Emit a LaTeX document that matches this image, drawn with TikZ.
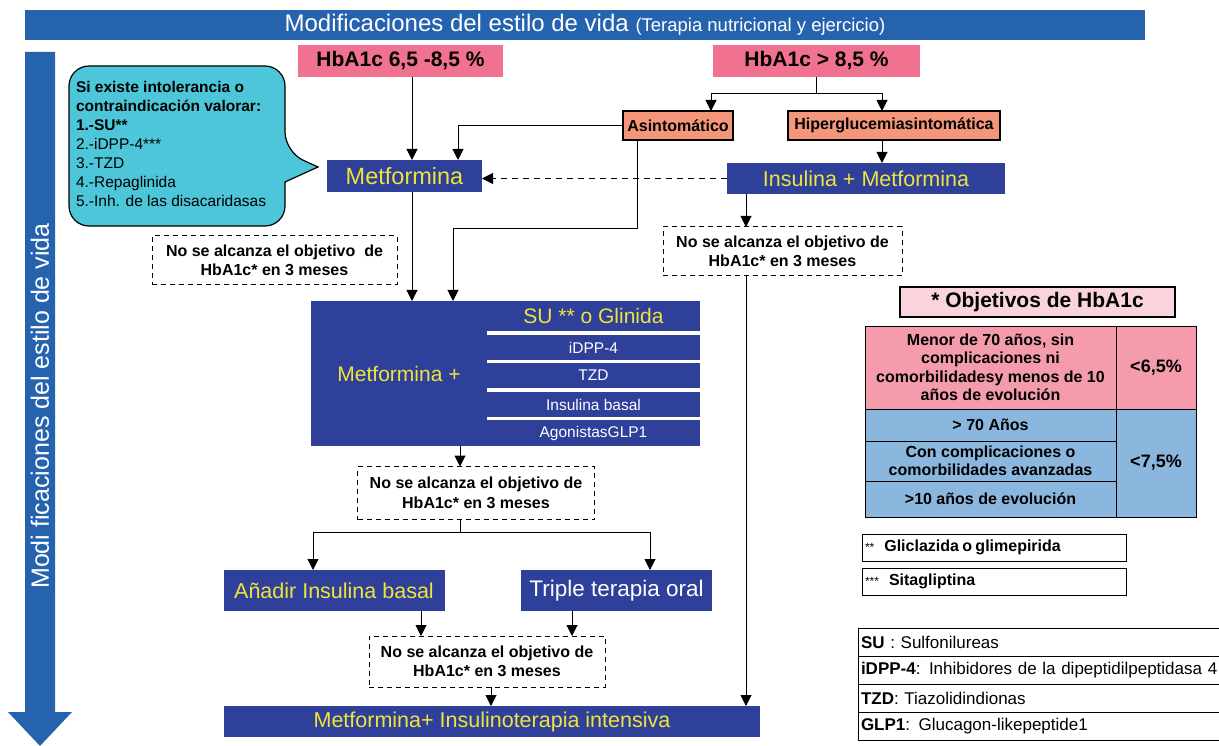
\documentclass[tikz,border=0pt]{standalone}
\usepackage{fontspec}
\setmainfont{Liberation Sans}
\usetikzlibrary{arrows.meta}
\definecolor{barblue}{RGB}{37,99,174}
\definecolor{dblue}{RGB}{46,64,153}
\definecolor{yel}{RGB}{240,228,60}
\definecolor{hpink}{RGB}{240,114,144}
\definecolor{salm}{RGB}{244,150,122}
\definecolor{cyanb}{RGB}{76,198,216}
\definecolor{tpink}{RGB}{244,156,172}
\definecolor{tblue}{RGB}{139,182,221}
\definecolor{lpink}{RGB}{250,212,221}
\newcommand\fsz[2]{\fontsize{#1}{#2}\selectfont}
\tikzset{
  box/.style={inner sep=0pt, outer sep=0pt},
  blk/.style={box, fill=dblue, text=yel},
  pbox/.style={box, fill=hpink, font=\fsz{21}{24}\bfseries},
  sbox/.style={box, fill=salm, draw=black, line width=1.2pt, font=\fsz{16}{18}\bfseries},
  dbox/.style={box, draw=black, line width=1pt, dash pattern=on 5pt off 4pt, align=center, font=\fsz{16}{19.5}\bfseries},
  arr/.style={line width=1pt, -{Triangle[width=11pt,length=11pt]}},
  ln/.style={line width=1pt},
  tcell/.style={box, draw=black, line width=1pt},
  rowc/.style={blk, text=white, minimum width=213pt, font=\fsz{15.5}{18}},
}
\begin{document}
\begin{tikzpicture}[x=1pt,y=-1pt]
\useasboundingbox (0,0) rectangle (1219,746);
% top bar
\node[box, fill=barblue, text=white, minimum width=1120pt, minimum height=30pt] (bar) at (585,25)
  {\fsz{24}{26}Modificaciones del estilo de vida \fsz{18.5}{20}(Terapia nutricional y ejercicio)};
% left arrow
\fill[barblue] (25,52) -- (55,52) -- (55,712) -- (72,712) -- (40,746) -- (8,712) -- (25,712) -- cycle;
\node[rotate=90, text=white, box, font=\fsz{25}{28}] (vtxt) at (40,406) {Modi ficaciones del estilo de vida};
% guides
\coordinate (gA) at (412,0);
\coordinate (gB) at (458,0);
\coordinate (gD) at (637,0);
\coordinate (gE) at (746,0);
\coordinate (gF) at (460,0);
\coordinate (gG) at (313,0);
\coordinate (gH) at (650,0);
\coordinate (gI) at (421,0);
\coordinate (gJ) at (572,0);
\coordinate (gK) at (491,0);
\coordinate (gL) at (711,0);
\coordinate (gM) at (882,0);
% HbA1c boxes
\node[pbox, minimum width=205pt, minimum height=32pt] (hbA) at (400.5,61) {HbA1c 6,5 -8,5 \%};
\node[pbox, minimum width=207pt, minimum height=32pt] (hbB) at (816.5,61) {HbA1c > 8,5 \%};
% bubble
\draw[fill=cyanb, line width=1.2pt] (69,140) [rounded corners=20pt] -- (69,66) -- (285,66) -- (285,152) [sharp corners] -- (318,167) -- (285,182) [rounded corners=20pt] -- (285,226) -- (69,226) -- cycle;
\node[box, anchor=north west, align=left, font=\fsz{15.5}{19}] (bubtxt) at (76,81)
  {\bfseries Si existe intolerancia o\\
   \bfseries contraindicación valorar:\\
   \bfseries 1.-SU**\\
   2.-iDPP-4***\\
   3.-TZD\\
   4.-Repaglinida\\
   5.-Inh. de las disacaridasas};
% Metformina
\node[blk, minimum width=155pt, minimum height=32pt, font=\fsz{23.5}{26}] (metf) at (404.5,176) {Metformina};
% Asintomatico / Hiper
\node[sbox, minimum width=110pt, minimum height=29pt] (asin) at (678,125.5) {Asintomático};
\node[sbox, minimum width=212pt, minimum height=29pt] (hiper) at (894,125.5) {Hiperglucemiasintomática};
% Insulina + Metformina
\node[blk, minimum width=278pt, minimum height=31pt, font=\fsz{21.5}{24}] (insm) at (866,178.5) {Insulina + Metformina};
% dashed boxes
\node[dbox, minimum width=245pt, minimum height=49pt] (d1) at (274.5,260.5) {No se alcanza el objetivo\ \ de\\HbA1c* en 3 meses};
\node[dbox, minimum width=239pt, minimum height=49pt] (d2) at (782.5,251.5) {No se alcanza el objetivo de\\HbA1c* en 3 meses};
% Metformina + block
\node[blk, minimum width=176pt, minimum height=145pt, font=\fsz{21}{24}] (metp) at (399,373.5) {Metformina +};
\node[blk, minimum width=213pt, minimum height=30pt, font=\fsz{21}{24}] (su) at (593.5,316) {SU ** o Glinida};
\node[rowc, minimum height=25pt] (idpp) at (593.5,347.5) {iDPP-4};
\node[rowc, minimum height=25pt] (tzd) at (593.5,375.5) {TZD};
\node[rowc, minimum height=25pt] (ib) at (593.5,404.5) {Insulina basal};
\node[rowc, minimum height=26pt] (glp) at (593.5,433) {AgonistasGLP1};
% d3
\node[dbox, minimum width=237pt, minimum height=53pt] (d3) at (476,493) {No se alcanza el objetivo de\\HbA1c* en 3 meses};
% Anadir / Triple
\node[blk, minimum width=221pt, minimum height=41pt, font=\fsz{21.5}{24}] (anad) at (334,590.5) {Añadir Insulina basal};
\node[blk, text=white, minimum width=191pt, minimum height=41pt, font=\fsz{22.5}{24}] (trip) at (616.5,590.5) {Triple terapia oral};
% d4
\node[dbox, minimum width=236pt, minimum height=51pt] (d4) at (487,661.5) {No se alcanza el objetivo de\\HbA1c* en 3 meses};
% intens
\node[blk, minimum width=536pt, minimum height=31pt, font=\fsz{21.5}{24}] (intens) at (492,721.5) {Metformina+ Insulinoterapia intensiva};
% connectors
\draw[arr] (hbA.south -| gA) -- (metf.north -| gA);
\draw[arr] (metf.south -| gA) -- (metp.north -| gA);
\draw[ln] (hbB.south) -- ++(0,17) coordinate (jB);
\draw[arr] (jB) -| (asin.north -| gL);
\draw[arr] (jB) -| (hiper.north -| gM);
\draw[arr] (asin.west) -| (metf.north -| gB);
\coordinate (jC) at (453,229);
\draw[arr] (asin.south -| gD) |- (jC) -- (metp.north -| jC);
\draw[arr] (hiper.south -| gM) -- (insm.north -| gM);
\draw[arr, dash pattern=on 6pt off 5pt] (insm.west) -- (metf.east |- insm.west);
\draw[arr] (insm.south -| gE) -- (d2.north -| gE);
\draw[arr] (d2.south -| gE) -- (intens.north -| gE);
\draw[arr] (metp.south -| gF) -- (d3.north -| gF);
\draw[ln] (d3.south -| gF) -- ++(0,13) coordinate (jD);
\draw[arr] (jD) -| (anad.north -| gG);
\draw[arr] (jD) -| (trip.north -| gH);
\draw[arr] (anad.south -| gI) -- (d4.north -| gI);
\draw[arr] (trip.south -| gJ) -- (d4.north -| gJ);
\draw[arr] (d4.south -| gK) -- (intens.north -| gK);
% objetivos
\node[box, fill=lpink, draw=black, line width=1.2pt, minimum width=275pt, minimum height=30pt, font=\fsz{21}{24}\bfseries] (objt) at (1037.5,302) {* Objetivos de HbA1c};
\node[tcell, fill=tpink, minimum width=251pt, minimum height=83pt, align=center, font=\fsz{16}{18.5}\bfseries] (c1) at (990.5,367.5)
  {Menor de 70 años, sin\\complicaciones ni\\comorbilidadesy menos de 10\\años de evolución};
\node[tcell, fill=tpink, minimum width=80pt, minimum height=83pt, font=\fsz{18}{20}\bfseries] (c1r) at (1156,367.5) {<6,5\%};
\node[tcell, fill=tblue, minimum width=251pt, minimum height=32pt, font=\fsz{16}{18}\bfseries] (c2) at (990.5,425) {> 70 Años};
\node[tcell, fill=tblue, minimum width=251pt, minimum height=40pt, align=center, font=\fsz{16}{18.5}\bfseries] (c3) at (990.5,461) {Con complicaciones o\\comorbilidades avanzadas};
\node[tcell, fill=tblue, minimum width=251pt, minimum height=36pt, font=\fsz{16}{18}\bfseries] (c4) at (990.5,499) {>10 años de evolución};
\node[tcell, fill=tblue, minimum width=80pt, minimum height=108pt, font=\fsz{18}{20}\bfseries] (c2r) at (1156,463) {<7,5\%};
% footnotes
\node[tcell, minimum width=264pt, minimum height=27pt, anchor=west, align=left, text width=258pt] (f1) at (862,547.5) {\fsz{12}{14}**\ \ \ \bfseries\fsz{16}{18}Gliclazida o glimepirida};
\node[tcell, minimum width=264pt, minimum height=27pt, anchor=west, align=left, text width=258pt] (f2) at (862,581.5) {\fsz{12}{14}***\ \ \ \bfseries\fsz{16}{18}Sitagliptina};
% abbreviations
\tikzset{abr/.style={tcell, minimum width=380pt, minimum height=28pt, anchor=west, align=left, text width=374pt, font=\fsz{17}{19}}}
\node[abr] (a1) at (858,642) {\textbf{SU} : Sulfonilureas};
\node[abr] (a2) at (858,670) {\textbf{iDPP-4}: Inhibidores de la dipeptidilpeptidasa 4};
\node[abr] (a3) at (858,698) {\textbf{TZD}: Tiazolidindionas};
\node[abr] (a4) at (858,726) {\textbf{GLP1}: Glucagon-likepeptide1};
\end{tikzpicture}
\end{document}
